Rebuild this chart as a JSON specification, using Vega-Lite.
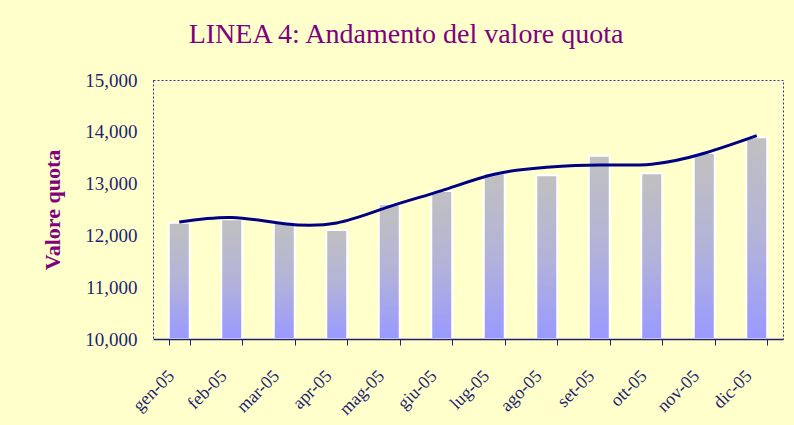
{
  "$schema": "https://vega.github.io/schema/vega-lite/v6.json",
  "width": 630,
  "height": 259,
  "autosize": {"type": "none"},
  "padding": {"left": 153, "top": 80, "right": 11, "bottom": 86},
  "background": "#FFFFCC",
  "title": {
    "text": "LINEA 4: Andamento del valore quota",
    "font": "Liberation Serif",
    "fontSize": 28,
    "fontWeight": "normal",
    "color": "#800080",
    "anchor": "middle",
    "frame": "group",
    "dx": -62,
    "offset": 22
  },
  "data": {
    "values": [
      {"mese": "gen-05", "valore": 12245, "trend": 12260},
      {"mese": "feb-05", "valore": 12310, "trend": 12345},
      {"mese": "mar-05", "valore": 12265, "trend": 12225},
      {"mese": "apr-05", "valore": 12105, "trend": 12240},
      {"mese": "mag-05", "valore": 12600, "trend": 12555},
      {"mese": "giu-05", "valore": 12857, "trend": 12865},
      {"mese": "lug-05", "valore": 13200, "trend": 13180},
      {"mese": "ago-05", "valore": 13160, "trend": 13315},
      {"mese": "set-05", "valore": 13540, "trend": 13360},
      {"mese": "ott-05", "valore": 13200, "trend": 13375},
      {"mese": "nov-05", "valore": 13590, "trend": 13585},
      {"mese": "dic-05", "valore": 13895, "trend": 13925}
    ]
  },
  "encoding": {
    "x": {
      "field": "mese",
      "type": "ordinal",
      "sort": null,
      "scale": {"paddingInner": 0.6, "paddingOuter": 0.3},
      "axis": {
        "title": null,
        "labelAngle": -45,
        "labelAlign": "right",
        "labelBaseline": "middle",
        "labelPadding": 28,
        "labelOffset": -8,
        "labelFont": "Liberation Serif",
        "labelFontSize": 18,
        "labelColor": "#1F1F6F",
        "tickBand": "extent",
        "tickSize": 6,
        "tickColor": "#1F1F6F",
        "domainColor": "#1F1F6F",
        "domainWidth": 1.5,
        "zindex": 1
      }
    }
  },
  "layer": [
    {
      "mark": {
        "type": "bar",
        "stroke": "white",
        "strokeWidth": 2,
        "color": {
          "gradient": "linear",
          "x1": 0, "y1": 1, "x2": 0, "y2": 0,
          "stops": [
            {"offset": 0, "color": "#9999FF"},
            {"offset": 0.5, "color": "#B3B3D9"},
            {"offset": 1, "color": "#C0C0C0"}
          ]
        }
      },
      "encoding": {
        "y": {
          "field": "valore",
          "type": "quantitative",
          "scale": {"domain": [10000, 15000], "zero": false},
          "axis": {
            "title": "Valore quota",
            "titleFont": "Liberation Serif",
            "titleFontSize": 22,
            "titleFontWeight": "bold",
            "titleColor": "#800080",
            "titlePadding": 20,
            "values": [10000, 11000, 12000, 13000, 14000, 15000],
            "format": ",.0f",
            "labelFont": "Liberation Serif",
            "labelFontSize": 19,
            "labelColor": "#1F1F6F",
            "labelPadding": 16,
            "ticks": false,
            "domain": false,
            "grid": false
          }
        },
        "y2": {"datum": 10000}
      }
    },
    {
      "mark": {"type": "line", "color": "#000080", "strokeWidth": 3, "interpolate": "natural"},
      "encoding": {
        "y": {"field": "trend", "type": "quantitative"}
      }
    }
  ],
  "config": {
    "view": {"stroke": "#333399", "strokeDash": [2, 2], "strokeWidth": 1}
  }
}
